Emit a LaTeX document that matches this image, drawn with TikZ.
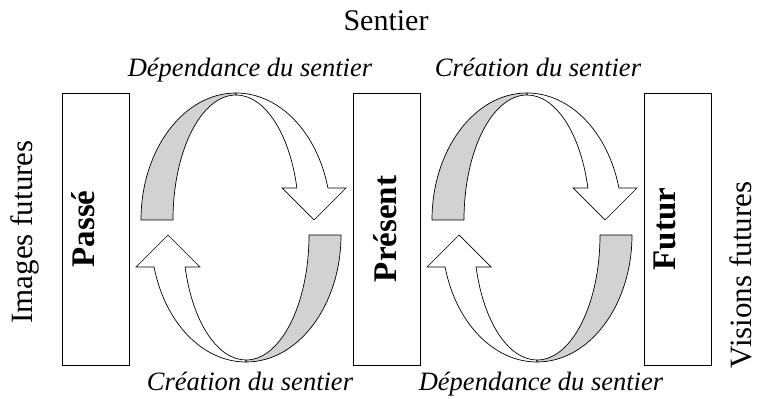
\documentclass[tikz,border=0pt]{standalone}
\usepackage{fontspec}
\setmainfont{Liberation Serif}

\tikzset{
  phase/.style={draw, line width=0.9pt, minimum width=67pt, minimum height=272pt, inner sep=0pt},
  phaselabel/.style={rotate=90, inner sep=0pt, font=\fontsize{33}{33}\selectfont\bfseries},
  sidelabel/.style={rotate=90, inner sep=0pt, font=\fontsize{31}{31}\selectfont},
  flowlabel/.style={anchor=base, inner sep=0pt, font=\fontsize{26.5}{26.5}\selectfont\itshape},
  backband/.style={draw, fill=gray!35, line width=0.7pt, line join=round},
  frontband/.style={draw, fill=white, line width=0.7pt, line join=miter},
  turn/.pic={
    \draw[frontband] (90:95 and 127) arc[start angle=90, end angle=14.6, x radius=95, y radius=127]
      -- (110,32) -- (78,0) -- (46,32) -- (14.8:63 and 125)
      arc[start angle=14.8, end angle=90, x radius=63, y radius=125] -- cycle;
    \draw[backband] (180:95 and 127) arc[start angle=180, end angle=90, x radius=95, y radius=127]
      -- (90:63 and 125) arc[start angle=90, end angle=180, x radius=63, y radius=125] -- cycle;
  }
}

\begin{document}
\begin{tikzpicture}[x=1pt, y=1pt]
    \useasboundingbox (0,0) rectangle (764,399);

    % the three boxes
    \node[phase] (past) at (95.5,170) {};
    \node[phase] (present) at (386.5,170) {};
    \node[phase] (future) at (678,170) {};
    \node[phaselabel] (pastlabel) at (past.center) [yshift=12pt] {Passé};
    \node[phaselabel] (presentlabel) at (present.center) [yshift=1pt] {Présent};
    \node[phaselabel] (futurelabel) at (future.center) [yshift=13pt] {Futur};

    % turning arrows
    \foreach \dx in {0,291}{
        \pic at (236+\dx,179) {turn};
        \pic[rotate=180] at (246+\dx,164) {turn};
    }

    % labels
    \node[anchor=base, font=\fontsize{30}{30}\selectfont] (path) at (386,368) {Sentier};
    \node[flowlabel] (deptop) at (250,322) {Dépendance du sentier};
    \node[flowlabel] (creatop) at (538,322) {Création du sentier};
    \node[flowlabel] (creabot) at (250,8) {Création du sentier};
    \node[flowlabel] (depbot) at (541,8) {Dépendance du sentier};
    \node[sidelabel] (images) at (25,167) {Images futures};
    \node[sidelabel] (visions) at (741,124) {Visions futures};
\end{tikzpicture}
\end{document}
